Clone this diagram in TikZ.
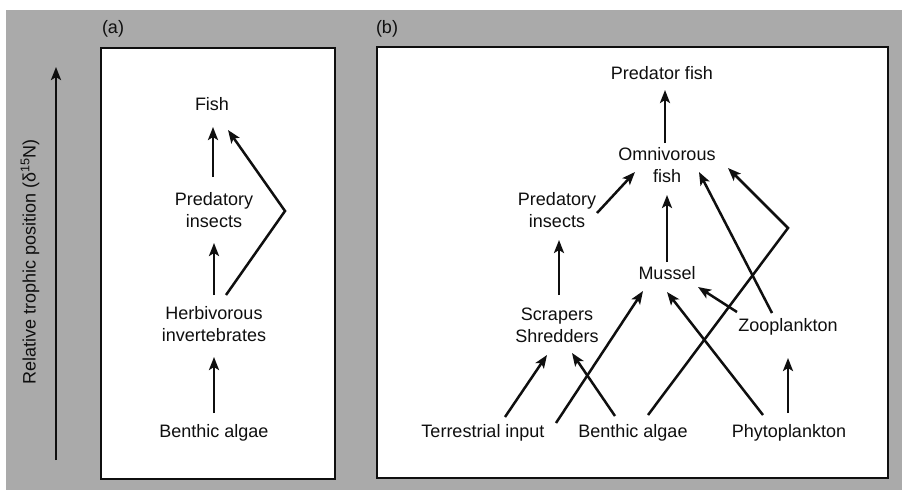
\documentclass[tikz,border=0pt]{standalone}
\usepackage{fontspec}
\setmainfont{Liberation Sans}
\usetikzlibrary{arrows.meta}
\definecolor{bggray}{RGB}{170,170,170}
\definecolor{ink}{RGB}{15,15,15}
\begin{document}
\begin{tikzpicture}[x=1pt,y=-1pt,
  lbl/.style={font=\fontsize{18}{22}\selectfont, text=ink, inner sep=0pt, align=center},
  arr/.style={draw=ink, line width=2.5pt, line join=miter, -{Stealth[length=13pt,width=10pt,inset=3pt]}},
  panel/.style={draw=ink, fill=white, line width=2.5pt}]
\useasboundingbox (0,0) rectangle (902,490);
\fill[bggray] (6,10) rectangle (902,490);
\draw[panel] (101,48) rectangle (335,479);
\draw[panel] (377,47) rectangle (888,478);
\node[lbl] (la) at (113,29) {(a)};
\node[lbl] (lb) at (387,29) {(b)};
% axis
\coordinate (axb) at (56,460);
\coordinate (axt) at (56,67);
\draw[arr] (axb) -- (axt);
\node[lbl, rotate=90] (axis) at (30,262) {Relative trophic position (δ\textsuperscript{15}N)};
% panel (a)
\node[lbl] (fishA) at (212,104) {Fish};
\node[lbl] (predA) at (214,210) {Predatory\\insects};
\node[lbl] (herbA) at (214,324) {Herbivorous\\invertebrates};
\node[lbl] (benA) at (214,433) {Benthic algae};
\coordinate (bendA) at (285,211);
\draw[arr] ([shift={(0,-20)}]benA.center) -- ([shift={(0,33)}]herbA.center);
\draw[arr] ([shift={(0,-29)}]herbA.center) -- ([shift={(0,33)}]predA.center);
\draw[arr] ([shift={(-1,-33)}]predA.center) -- ([shift={(1,23)}]fishA.center);
\draw[arr] ([shift={(12,-29)}]herbA.center) -- (bendA) -- ([shift={(16,26)}]fishA.center);
% panel (b)
\node[lbl] (predfish) at (662,73) {Predator fish};
\node[lbl] (omni) at (667,165) {Omnivorous\\fish};
\node[lbl] (predins) at (557,210) {Predatory\\insects};
\node[lbl] (mussel) at (667,273) {Mussel};
\node[lbl] (scr) at (557,325) {Scrapers\\Shredders};
\node[lbl] (zoo) at (788,327) {Zooplankton};
\node[lbl] (terr) at (483,433) {Terrestrial input};
\node[lbl] (benB) at (633,433) {Benthic algae};
\node[lbl] (phyto) at (789,433) {Phytoplankton};
\coordinate (bendB) at (788,228);
\draw[arr] ([shift={(-2,-22)}]omni.center) -- ([shift={(3,17)}]predfish.center);
\draw[arr] ([shift={(40,3)}]predins.center) -- ([shift={(-32,7)}]omni.center);
\draw[arr] ([shift={(0,-11)}]mussel.center) -- ([shift={(0,30)}]omni.center);
\draw[arr] ([shift={(2,-30)}]scr.center) -- ([shift={(2,30)}]predins.center);
\draw[arr] ([shift={(22,-16)}]terr.center) -- ([shift={(-10,30)}]scr.center);
\draw[arr] ([shift={(73,-10)}]terr.center) -- ([shift={(-24,18)}]mussel.center);
\draw[arr] ([shift={(-18,-17)}]benB.center) -- ([shift={(15,28)}]scr.center);
\draw[arr] ([shift={(15,-18)}]benB.center) -- (bendB) -- ([shift={(61,3)}]omni.center);
\draw[arr] ([shift={(-26,-18)}]phyto.center) -- ([shift={(0,19)}]mussel.center);
\draw[arr] ([shift={(-51,-15)}]zoo.center) -- ([shift={(31,14)}]mussel.center);
\draw[arr] ([shift={(-16,-14)}]zoo.center) -- ([shift={(32,7)}]omni.center);
\draw[arr] ([shift={(-1,-20)}]phyto.center) -- ([shift={(0,31)}]zoo.center);
\end{tikzpicture}
\end{document}
